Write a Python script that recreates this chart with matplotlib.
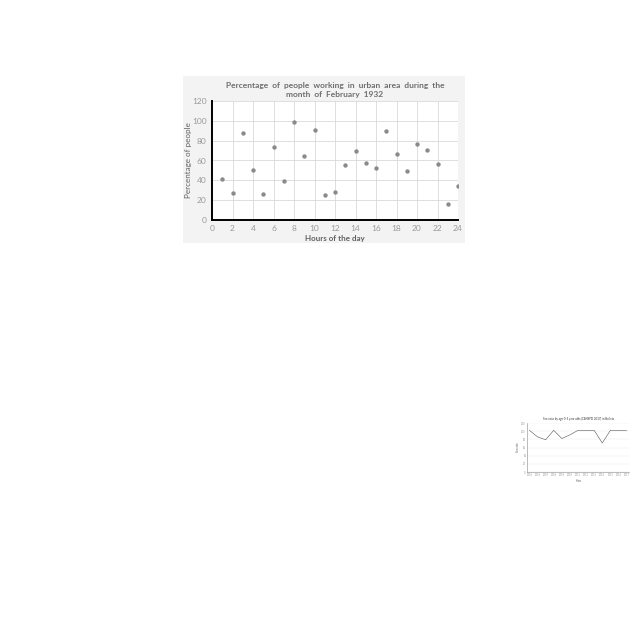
import numpy as np
import matplotlib
matplotlib.use("Agg")
import matplotlib.pyplot as plt
from matplotlib.patches import Rectangle

# main scatter: percentage of people working per hour
hours = list(range(1, 25))
percent = [41, 27, 88, 50, 26, 74, 39, 99, 65, 91, 25, 28,
           55, 70, 57, 52, 90, 67, 49, 77, 71, 56, 16, 34]

# small line chart in lower right corner
years = ['2005', '2006', '2007', '2008', '2009', '2010', '2011',
         '2012', '2013', '2014', '2015', '2016', '2017']
ratio = [102, 86, 79, 102, 82, 91, 102, 102, 102, 71, 102, 102, 102]

plt.rcParams['font.family'] = ['Lato', 'DejaVu Sans']
title_col = '#6e6e6e'
tick_col = '#9a9a9a'
label_col = '#606060'

fig = plt.figure(figsize=(6.4, 6.4), dpi=100)
fig.patch.set_facecolor('white')

# light grey card behind the scatter chart
card = Rectangle((183/640, 1 - 243/640), (465-183)/640, (243-76)/640,
                 transform=fig.transFigure, facecolor='#f3f3f3',
                 edgecolor='none', zorder=-5)
fig.patches.append(card)

ax = fig.add_axes([212/640, 1 - 219.7/640, (458-212)/640, (219.7-101.3)/640])
ax.set_facecolor('white')
ax.scatter(hours, percent, s=10, color='#8a8a8a', zorder=3, linewidths=0)
ax.set_xlim(0, 24)
ax.set_ylim(0, 120)
ax.set_xticks(range(0, 25, 2))
ax.set_yticks(range(0, 121, 20))
ax.grid(True, color='#d9d9d9', linewidth=0.6)
ax.set_axisbelow(True)
for s in ['top', 'right']:
    ax.spines[s].set_visible(False)
for s in ['left', 'bottom']:
    ax.spines[s].set_color('black')
    ax.spines[s].set_linewidth(1.4)
ax.tick_params(length=0, labelsize=6, colors=tick_col, pad=4)
ax.set_xlabel('Hours of the day', fontsize=5.8, color=label_col,
              fontweight='bold', labelpad=2)
ax.set_ylabel('Percentage of people', fontsize=5.8, color=label_col, labelpad=0)
ax.set_title('Percentage  of  people  working  in  urban  area  during  the\nmonth  of  February  1932',
             fontsize=6, color=title_col, fontweight='bold', pad=3, linespacing=1.4)

# tiny line chart
ax2 = fig.add_axes([527/640, 1 - 472/640, (629-527)/640, (472-423)/640])
ax2.plot(range(len(years)), ratio, color='#555555', linewidth=0.4)
ax2.set_ylim(0, 120)
ax2.set_xlim(-0.3, len(years) - 0.7)
ax2.set_yticks(range(0, 121, 20))
ax2.set_xticks(range(len(years)))
ax2.set_xticklabels(years)
ax2.grid(True, axis='y', color='#e8e8e8', linewidth=0.3)
ax2.set_axisbelow(True)
for s in ['top', 'right']:
    ax2.spines[s].set_visible(False)
for s in ['left', 'bottom']:
    ax2.spines[s].set_linewidth(0.4)
    ax2.spines[s].set_color('#888888')
ax2.tick_params(length=0, labelsize=1.8, colors=tick_col, pad=1)
ax2.set_xlabel('Years', fontsize=1.8, color=label_col, labelpad=1)
ax2.set_ylabel('Sex ratio', fontsize=1.8, color=label_col, labelpad=1)
ax2.set_title('Sex ratio by age 0-5 year olds (CENSPD 2017) in Bolivia',
              fontsize=2.1, color='#333333', pad=2)

fig.savefig('out.png', dpi=100)
